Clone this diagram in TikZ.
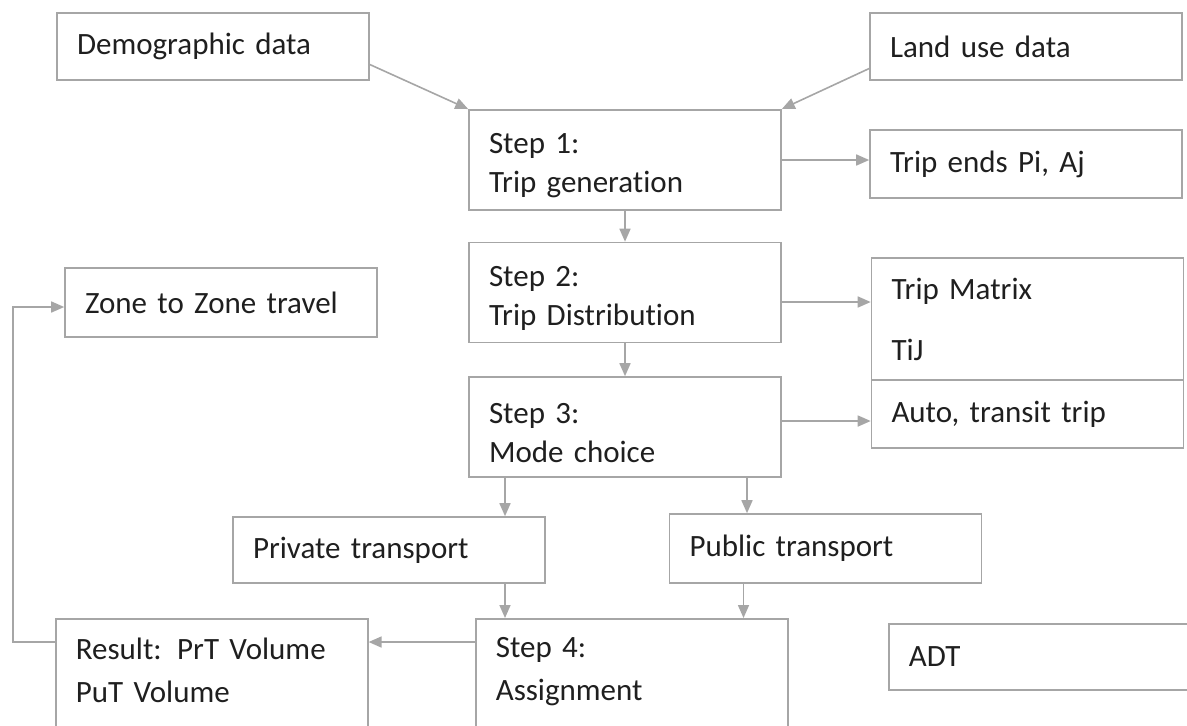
\documentclass[tikz,border=0pt]{standalone}
\usepackage{fontspec}
\setmainfont{Carlito}[Ligatures=NoCommon, WordSpace=0.85]
\usetikzlibrary{positioning, arrows.meta}
\definecolor{linegray}{HTML}{A6A6A6}
\definecolor{textdark}{HTML}{1F1F1F}

\begin{document}
\begin{tikzpicture}[
    x=0.5pt, y=-0.5pt,
    font=\fontsize{15.5}{19.5}\selectfont,
    box/.style={
        rectangle, draw=linegray, line width=0.8pt, text=textdark,
        text width=136pt, inner xsep=10pt, inner ysep=6pt, align=left
    },
    stepbox/.style={box, text height=16pt},
    arr/.style={-{Triangle[length=6.5pt,width=5.5pt]}, draw=linegray, line width=0.8pt}
]
\useasboundingbox (0,0) rectangle (1187,725);

% ---------------- Inputs ----------------
\node[box, minimum height=33.5pt] (demog) at (213,46.5) {Demographic data};
\node[box, minimum height=33.5pt] (landuse) at (1026,46.5) {Land use data};

% ---------------- Steps ----------------
\node[stepbox, minimum height=48pt] (step1) at (625,160) {Step 1:\\Trip generation};
\node[stepbox, minimum height=45.5pt] (step2) at (625,292.5) {Step 2:\\Trip Distribution};
\node[stepbox, minimum height=50pt] (step3) at (625,427) {Step 3:\\Mode choice};
\node[box, anchor=north west, inner ysep=9.5pt, text depth=40pt] (step4) at (475,618) {Step 4:\\[2pt]Assignment};

% ---------------- Outputs ----------------
\node[box, minimum height=34pt] (tripends) at (1026,164) {Trip ends Pi, Aj};
\node[box, minimum height=61pt] (tripmatrix) at (1027.5,319) {Trip Matrix\\[11pt]TiJ};
\node[box, minimum height=34pt] (autotrip) at (1027.5,414) {Auto, transit trip};
\node[box, minimum height=34.5pt] (zone) at (221,302.5) {Zone to Zone travel};

% ---------------- Modes ----------------
\node[box, minimum height=33pt] (private) at (389,550) {Private transport};
\node[box, minimum height=34.5pt] (public) at (825.5,548.5) {Public transport};

\node[box, anchor=north west, inner ysep=9.5pt, text depth=40pt] (result) at (55,618) {Result: PrT Volume\\[2pt]PuT Volume};
\node[box, anchor=west, text width=180pt, minimum height=33pt] (adt) at (888,657) {ADT};

% ---------------- Arrows ----------------
\draw[arr] ([yshift=-9pt]demog.east) -- (step1.north west);
\draw[arr] ([yshift=-11pt]landuse.west) -- (step1.north east);
\draw[arr] (step1.east) -- (step1.east -| tripends.west);
\draw[arr] (step1.south) -- (step2.north);
\draw[arr] ([yshift=-4.75pt]step2.east) -- ([yshift=-4.75pt]step2.east -| tripmatrix.west);
\draw[arr] (step2.south) -- (step3.north);
\draw[arr] ([yshift=3pt]step3.east) -- ([yshift=3pt]step3.east -| autotrip.west);

\draw[arr] ([xshift=-60pt]step3.south) -- ([xshift=-60pt]step3.south |- private.north);
\draw[arr] ([xshift=61pt]step3.south) -- ([xshift=61pt]step3.south |- public.north);
\draw[arr] ([xshift=58pt]private.south) -- ([xshift=58pt]private.south |- step4.north);
\draw[arr] ([xshift=-41pt]public.south) -- ([xshift=-41pt]public.south |- step4.north);

\draw[arr] ([yshift=-12pt]step4.north west) -- ([yshift=-12pt]step4.north west -| result.east);
\coordinate (loop) at (13,307);
\draw[arr] ([yshift=-12pt]result.north west) -| (loop) -- (loop -| zone.west);

\end{tikzpicture}
\end{document}
